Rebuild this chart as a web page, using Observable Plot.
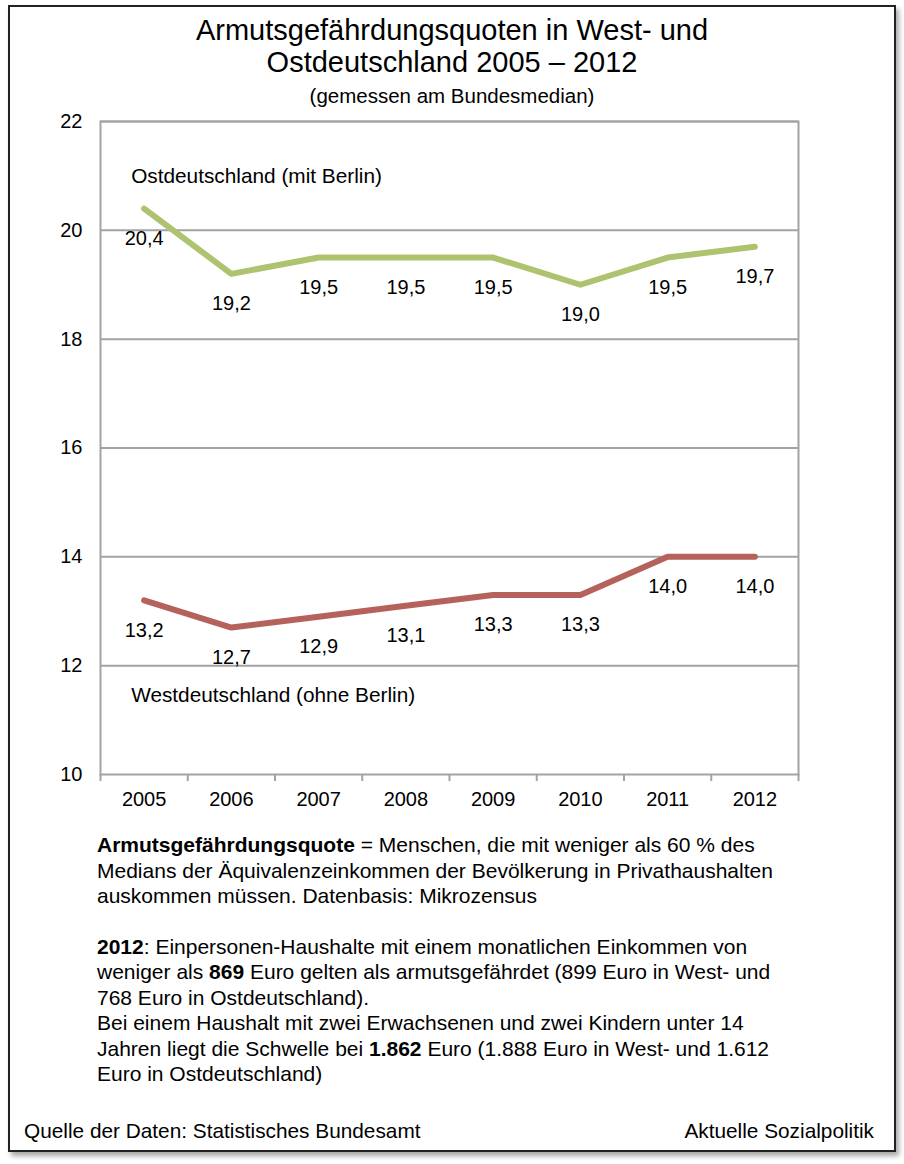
<!DOCTYPE html>
<html><head><meta charset="utf-8">
<script src="https://cdn.jsdelivr.net/npm/d3@7"></script>
<script src="https://cdn.jsdelivr.net/npm/@observablehq/plot@0.6"></script>
<style>
html,body{margin:0;padding:0;background:#fff;}
body{width:904px;height:1164px;position:relative;font-family:"Liberation Sans",Arial,sans-serif;color:#000;overflow:hidden;}
#box{position:absolute;left:8px;top:5px;width:884px;height:1143px;border:2px solid #222;box-shadow:3px 4px 5px rgba(0,0,0,0.35);background:#fff;}
#title{position:absolute;left:0;width:904px;top:14px;text-align:center;font-size:29px;line-height:32px;}
#sub{position:absolute;left:0;width:904px;top:84px;text-align:center;font-size:20.5px;}
#chart{position:absolute;left:0;top:110px;}
#note{position:absolute;left:97px;top:832px;white-space:nowrap;font-size:21px;line-height:25.5px;}
#note p{margin:0 0 25px 0;}
#src{position:absolute;left:24px;top:1119px;font-size:20.8px;}
#org{position:absolute;right:30px;top:1119px;font-size:20.8px;}
</style></head>
<body>
<div id="box"></div>
<div id="title">Armutsgefährdungsquoten in West- und<br>Ostdeutschland 2005 – 2012</div>
<div id="sub">(gemessen am Bundesmedian)</div>
<div id="chart"></div>
<div id="note">
<p><b>Armutsgefährdungsquote</b> = Menschen, die mit weniger als 60 % des<br>Medians der Äquivalenzeinkommen der Bevölkerung in Privathaushalten<br>auskommen müssen. Datenbasis: Mikrozensus</p>
<p><b>2012</b>: Einpersonen-Haushalte mit einem monatlichen Einkommen von<br>weniger als <b>869</b> Euro gelten als armutsgefährdet (899 Euro in West- und<br>768 Euro in Ostdeutschland).<br>Bei einem Haushalt mit zwei Erwachsenen und zwei Kindern unter 14<br>Jahren liegt die Schwelle bei <b>1.862</b> Euro (1.888 Euro in West- und 1.612<br>Euro in Ostdeutschland)</p>
</div>
<div id="src">Quelle der Daten: Statistisches Bundesamt</div>
<div id="org">Aktuelle Sozialpolitik</div>
<script>
const years = [2005, 2006, 2007, 2008, 2009, 2010, 2011, 2012];
const ost = [20.4, 19.2, 19.5, 19.5, 19.5, 19.0, 19.5, 19.7];
const west = [13.2, 12.7, 12.9, 13.1, 13.3, 13.3, 14.0, 14.0];
const yTicks = [10, 12, 14, 16, 18, 20, 22];
const seriesNames = ["Ostdeutschland (mit Berlin)", "Westdeutschland (ohne Berlin)"];
const seriesLabelY = [21.0, 11.45];
const seriesColors = ["#adc36f", "#b5625c"];

const rows = [];
[ost, west].forEach((vals, s) => vals.forEach((v, i) => rows.push({year: years[i], value: v, series: seriesNames[s]})));
const boundaries = years.map(y => y - 0.5).concat([years[years.length - 1] + 0.5]);
const fmt = v => v.toFixed(1).replace(".", ",");
const nameRows = seriesNames.map((n, i) => ({year: years[0], value: seriesLabelY[i], name: n}));
const yMin = yTicks[0];

const grey = "#a3a3a3";
const chart = Plot.plot({
  width: 904, height: 710,
  marginLeft: 100, marginRight: 106, marginTop: 11, marginBottom: 46,
  style: {fontFamily: "Liberation Sans, Arial, sans-serif", fontSize: "20px", color: "#000", background: "transparent", overflow: "visible"},
  x: {type: "linear", domain: [years[0] - 0.5, years[years.length - 1] + 0.5], axis: null},
  y: {type: "linear", domain: [yTicks[0], yTicks[yTicks.length - 1]], axis: null},
  color: {domain: seriesNames, range: seriesColors},
  marks: [
    Plot.ruleY(yTicks.slice(1), {y: d => d, stroke: grey, strokeWidth: 2}),
    Plot.frame({stroke: grey, strokeWidth: 2}),
    Plot.ruleX(boundaries, {x: d => d, y1: yMin, y2: yMin, insetBottom: -7, stroke: grey, strokeWidth: 2}),
    Plot.axisY(yTicks, {anchor: "left", label: null, tickSize: 0, tickPadding: 18, fontSize: 20, tickFormat: d => String(d), fill: "#000"}),
    Plot.axisX(years, {anchor: "bottom", label: null, tickSize: 0, tickPadding: 17, fontSize: 20, tickFormat: d => String(d), fill: "#000"}),
    Plot.line(rows, {x: "year", y: "value", z: "series", stroke: "series", strokeWidth: 6, strokeLinecap: "round", strokeLinejoin: "round"}),
    Plot.text(rows, {x: "year", y: "value", text: d => fmt(d.value), dy: 30, fontSize: 20, fill: "#000"}),
    Plot.text(nameRows, {x: "year", y: "value", text: "name", textAnchor: "start", dx: -13, fontSize: 20.8, fill: "#000"})
  ]
});
document.getElementById("chart").appendChild(chart);
</script>
</body></html>
